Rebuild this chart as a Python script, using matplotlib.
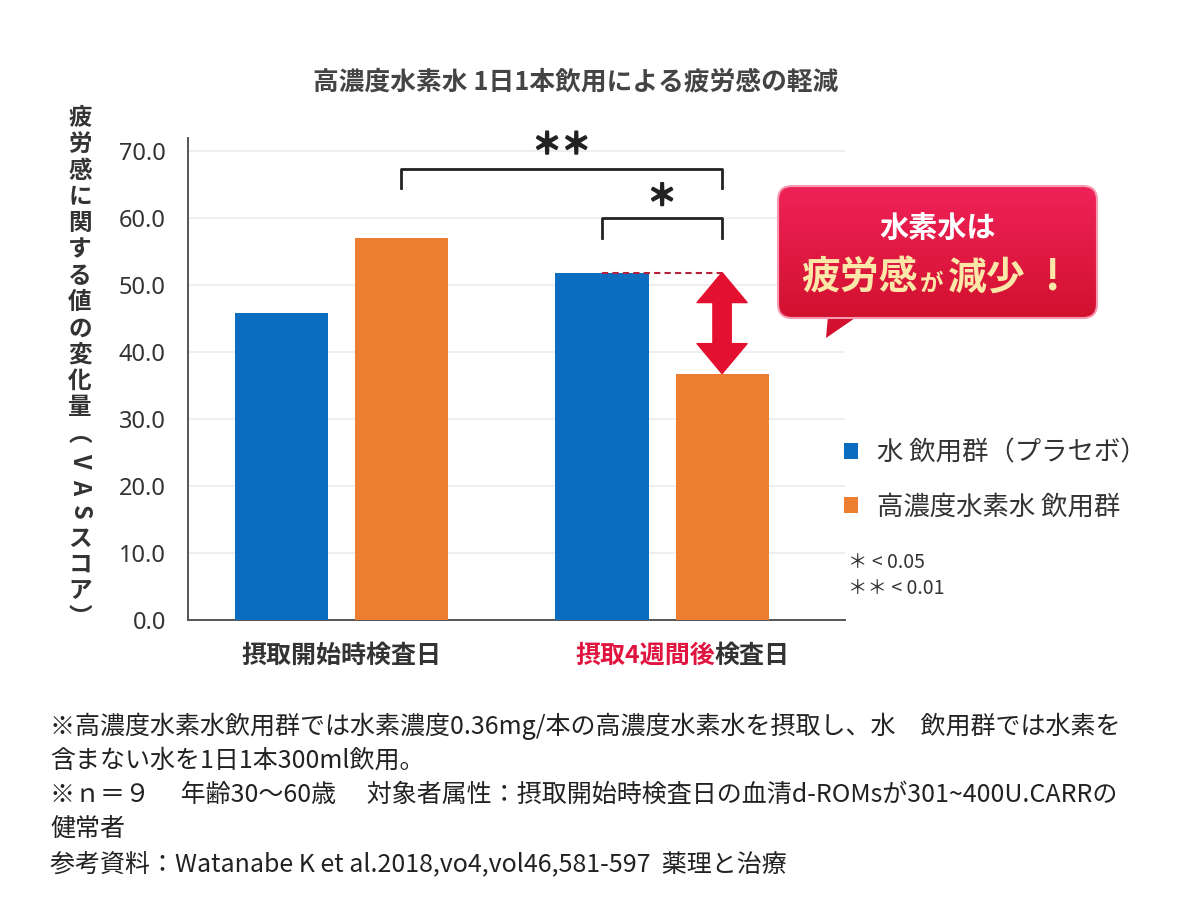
"""Recreates the hydrogen water fatigue (VAS) bar chart."""
import numpy as np
import matplotlib
matplotlib.use('Agg')
import matplotlib.pyplot as plt
import matplotlib.patheffects as pe
from matplotlib.patches import FancyBboxPatch, Polygon

plt.rcParams['font.family'] = ['Noto Sans CJK JP', 'DejaVu Sans']

# data
GROUPS = ['摂取開始時検査日', '摂取4週間後検査日']
SERIES = ['水 飲用群（プラセボ）', '高濃度水素水 飲用群']
PLACEBO = [45.9, 51.9]
HYDROGEN = [57.1, 36.8]
YTICKS = [0, 10, 20, 30, 40, 50, 60, 70]

BLUE = '#0b6dbf'
ORANGE = '#ed7d31'
RED = '#e0153f'
TEXT = '#333333'

W, H = 1200, 900
OFF = 0.187
BAR_W = 0.29


def fx(px):
    return px / W


def fy(py):
    return 1 - py / H


fig = plt.figure(figsize=(12, 9), dpi=100)
ax = fig.add_axes([fx(188), fy(620), fx(845) - fx(188), fy(138) - fy(620)])

x = np.arange(len(GROUPS))
b1 = ax.bar(x - OFF, PLACEBO, BAR_W, color=BLUE, label=SERIES[0], zorder=3)
b2 = ax.bar(x + OFF, HYDROGEN, BAR_W, color=ORANGE, label=SERIES[1], zorder=3)

ax.set_xlim(-0.477, 1.570)
ax.set_ylim(0, 72)
ax.set_yticks(YTICKS)
ax.set_yticklabels([f'{v:.1f}' for v in YTICKS], fontsize=17, color=TEXT,
                   family=['Noto Sans', 'DejaVu Sans'])
ax.tick_params(axis='y', length=0, pad=16)
ax.set_xticks([])
for s in ['top', 'right']:
    ax.spines[s].set_visible(False)
for s in ['left', 'bottom']:
    ax.spines[s].set_color('#555555')
    ax.spines[s].set_linewidth(1.4)
for v in YTICKS[1:]:
    ax.axhline(v, color='#ebebeb', lw=1.2, zorder=1)

# category labels
ax.annotate(GROUPS[0], xy=(x[0], 0), xycoords=('data', 'axes fraction'),
            xytext=(0, -26), textcoords='offset points', ha='center',
            va='center', fontsize=18, color=TEXT, fontweight='bold')
ax.annotate('摂取4週間後', xy=(x[1], 0), xycoords=('data', 'axes fraction'),
            xytext=(38, -26), textcoords='offset points', ha='right',
            va='center', fontsize=18, color=RED, fontweight='bold')
ax.annotate('検査日', xy=(x[1], 0), xycoords=('data', 'axes fraction'),
            xytext=(38, -26), textcoords='offset points', ha='left',
            va='center', fontsize=18, color=TEXT, fontweight='bold')

# significance brackets
thick = [pe.withStroke(linewidth=1.3, foreground='#222222')]


def bracket(x0, x1, ytop, ylow, label, ylab, size):
    ax.plot([x0, x0, x1, x1], [ylow, ytop, ytop, ylow], color='#222222',
            lw=2, clip_on=False, zorder=4)
    ax.text((x0 + x1) / 2, ylab, label, ha='center', va='center',
            fontsize=size, color='#222222', fontweight='bold',
            path_effects=thick)


bracket(x[0] + OFF, x[1] + OFF, 67.4, 64.6, '＊＊', 71.0, 21)
bracket(x[1] - OFF, x[1] + OFF, 60.0, 57.0, '＊', 63.3, 21)

# dashed reference line and double arrow
ax.plot([x[1] - OFF, x[1] + OFF], [PLACEBO[1], PLACEBO[1]], color='#b5203c',
        lw=1.5, ls=(0, (3, 2)), zorder=4)
mid = (PLACEBO[1] + HYDROGEN[1]) / 2
style = 'simple,head_length=0.9,head_width=1.5,tail_width=0.55'
for end in (PLACEBO[1], HYDROGEN[1]):
    ax.annotate('', xy=(x[1] + OFF, end), xytext=(x[1] + OFF, mid),
                arrowprops=dict(arrowstyle=style, mutation_scale=24,
                                color='#e4102f', shrinkA=0, shrinkB=0),
                zorder=5)

# legend
fig.legend(handles=[b1, b2], labels=SERIES, loc='upper left',
           bbox_to_anchor=(fx(820), fy(416)), frameon=False, fontsize=19,
           labelspacing=1.0, handlelength=0.55, handleheight=0.55,
           handletextpad=0.7, labelcolor=TEXT)

# overlay in pixel coordinates for the other texts
ov = fig.add_axes([0, 0, 1, 1], facecolor='none')
ov.set_xlim(0, W)
ov.set_ylim(H, 0)
ov.axis('off')

ov.text(576, 82, '高濃度水素水 1日1本飲用による疲労感の軽減', ha='center',
        va='center', fontsize=18.5, color='#444444', fontweight='bold')

ylabel = list('疲労感に関する値の変化量') + ['︵', 'V', 'A', 'S'] + list('スコア') + ['︶']
for i, ch in enumerate(ylabel):
    rot = -90 if ch in 'VAS' else 0
    ov.text(80, 118 + i * 26.3, ch, ha='center', va='center', fontsize=17,
            color=TEXT, rotation=rot, fontweight='bold')

ov.text(848, 562, '＊ < 0.05', ha='left', va='center', fontsize=14, color=TEXT)
ov.text(848, 588, '＊＊ < 0.01', ha='left', va='center', fontsize=14, color=TEXT)

# callout box with gradient
box = FancyBboxPatch((778, 186), 319, 132, boxstyle='round,pad=0,rounding_size=14',
                     facecolor='none', edgecolor='#f59ab0', lw=1.5, zorder=6)
ov.add_patch(box)
grad = np.linspace(0, 1, 100).reshape(-1, 1)
cmap = matplotlib.colors.LinearSegmentedColormap.from_list('callout', ['#ef2258', '#d2112f'])
img = ov.imshow(grad, extent=(778, 1097, 318, 186), cmap=cmap, aspect='auto', zorder=5)
img.set_clip_path(box)
ov.add_patch(Polygon([(828, 316), (858, 316), (826, 338)], closed=True,
                     facecolor='#d2112f', edgecolor='none', zorder=5))
ov.set_xlim(0, W)
ov.set_ylim(H, 0)

ov.text(938, 228, '水素水は', ha='center', va='center', fontsize=21,
        color='white', fontweight='bold', zorder=7)
ov.text(801, 278, '疲労感', ha='left', va='center', fontsize=28,
        color='#fbe7a8', fontweight='bold', zorder=7)
ov.text(920, 284, 'が', ha='left', va='center', fontsize=17,
        color='#fbe7a8', fontweight='bold', zorder=7)
ov.text(948, 278, '減少', ha='left', va='center', fontsize=28,
        color='#fbe7a8', fontweight='bold', zorder=7)
ov.text(1052, 278, '!', ha='center', va='center', fontsize=30,
        color='#fbe7a8', fontweight='bold', zorder=7)

# footnotes
notes = [
    '※高濃度水素水飲用群では水素濃度0.36mg/本の高濃度水素水を摂取し、水　飲用群では水素を',
    '含まない水を1日1本300ml飲用。',
    '※ｎ＝９　 年齢30〜60歳　 対象者属性：摂取開始時検査日の血清d-ROMsが301~400U.CARRの',
    '健常者',
    '参考資料：Watanabe K et al.2018,vo4,vol46,581-597  薬理と治療',
]
for i, line in enumerate(notes):
    ov.text(50, 726 + i * 34.5, line, ha='left', va='center', fontsize=18,
            color='#222222')

fig.savefig('out.png', dpi=100, facecolor='white')
